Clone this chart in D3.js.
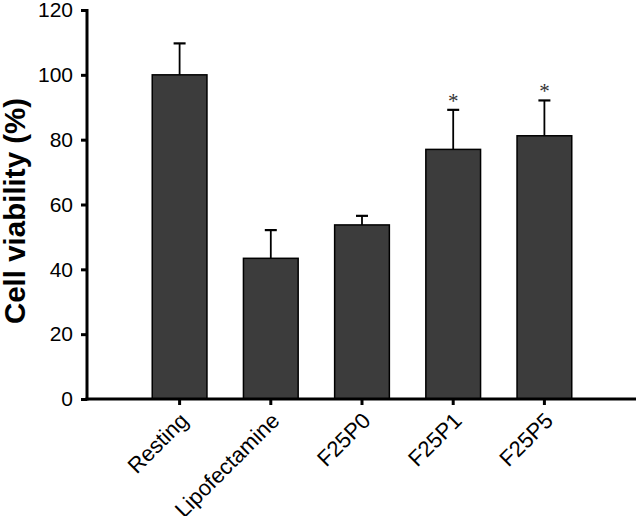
<!DOCTYPE html>
<html>
<head>
<meta charset="utf-8">
<script src="https://cdn.jsdelivr.net/npm/d3@7"></script>
<style>
  body { margin: 0; background: #fff; }
  svg { display: block; font-family: "Liberation Sans", Arial, sans-serif; }
</style>
</head>
<body>
<svg id="chart" width="636" height="516"></svg>
<script>
const categories = ["Resting", "Lipofectamine", "F25P0", "F25P1", "F25P5"];
const means = [100, 43.4, 53.7, 77.0, 81.2];
const errors = [9.7, 8.7, 2.8, 12.2, 10.9];
const significant = [false, false, false, true, true];
const yTicks = [0, 20, 40, 60, 80, 100, 120];

const svg = d3.select("#chart");

const axisLeft = 87,
  axisRight = 636,
  axisBottom = 399,
  axisTop = 10;

const x = d3
  .scaleBand()
  .domain(categories)
  .range([134, 590])
  .paddingInner(0.4)
  .paddingOuter(0.2);

const y = d3.scaleLinear().domain([0, 120]).range([axisBottom, axisTop]);

// bars
svg
  .append("g")
  .selectAll("rect")
  .data(categories)
  .join("rect")
  .attr("x", (d) => x(d))
  .attr("y", (d, i) => y(means[i]))
  .attr("width", x.bandwidth())
  .attr("height", (d, i) => y(0) - y(means[i]))
  .attr("fill", "#3c3c3c")
  .attr("stroke", "#000")
  .attr("stroke-width", 1.5);

// error bars (upper only) + significance marks
const err = svg.append("g").attr("stroke", "#000").attr("stroke-width", 1.8);
categories.forEach((c, i) => {
  const cx = x(c) + x.bandwidth() / 2;
  const top = y(means[i] + errors[i]);
  err.append("line")
    .attr("x1", cx).attr("x2", cx)
    .attr("y1", y(means[i])).attr("y2", top);
  err.append("line")
    .attr("x1", cx - 6).attr("x2", cx + 6)
    .attr("y1", top).attr("y2", top)
    .attr("stroke-width", 2.2);
  if (significant[i]) {
    svg.append("text")
      .attr("x", cx)
      .attr("y", top - 2)
      .attr("text-anchor", "middle")
      .attr("font-family", "'Liberation Serif', 'Times New Roman', serif")
      .attr("font-size", 21)
      .attr("fill", "#333")
      .text("*");
  }
});

// y axis
const yAxis = svg
  .append("g")
  .attr("transform", `translate(${axisLeft},0)`)
  .call(d3.axisLeft(y).tickValues(yTicks).tickSize(6).tickPadding(8));
yAxis.select(".domain").remove();
yAxis.selectAll(".tick line").attr("stroke-width", 3);
yAxis.selectAll(".tick text")
  .attr("font-size", 21)
  .attr("fill", "#000")
  .attr("font-family", "'Liberation Sans', Arial, sans-serif");
svg.append("line")
  .attr("x1", axisLeft).attr("x2", axisLeft)
  .attr("y1", axisTop - 1).attr("y2", axisBottom + 1.5)
  .attr("stroke", "#000").attr("stroke-width", 3);

// x axis
const xAxis = svg
  .append("g")
  .attr("transform", `translate(0,${axisBottom})`)
  .call(d3.axisBottom(x).tickSize(6).tickSizeOuter(0).tickFormat(""));
xAxis.select(".domain").remove();
xAxis.selectAll(".tick line").attr("stroke-width", 3);
svg.append("line")
  .attr("x1", axisLeft - 1.5).attr("x2", axisRight)
  .attr("y1", axisBottom).attr("y2", axisBottom)
  .attr("stroke", "#000").attr("stroke-width", 3);

// rotated category labels
svg
  .append("g")
  .selectAll("text")
  .data(categories)
  .join("text")
  .attr("transform", (d) => `translate(${x(d) + x.bandwidth() / 2 + 10},${axisBottom + 23}) rotate(-45)`)
  .attr("text-anchor", "end")
  .attr("font-size", 22)
  .attr("fill", "#000")
  .text((d) => d);

// y axis title
svg
  .append("text")
  .attr("transform", "translate(25,211) rotate(-90)")
  .attr("text-anchor", "middle")
  .attr("font-size", 29.5)
  .attr("font-weight", "bold")
  .attr("fill", "#000")
  .text("Cell viability (%)");
</script>
</body>
</html>
